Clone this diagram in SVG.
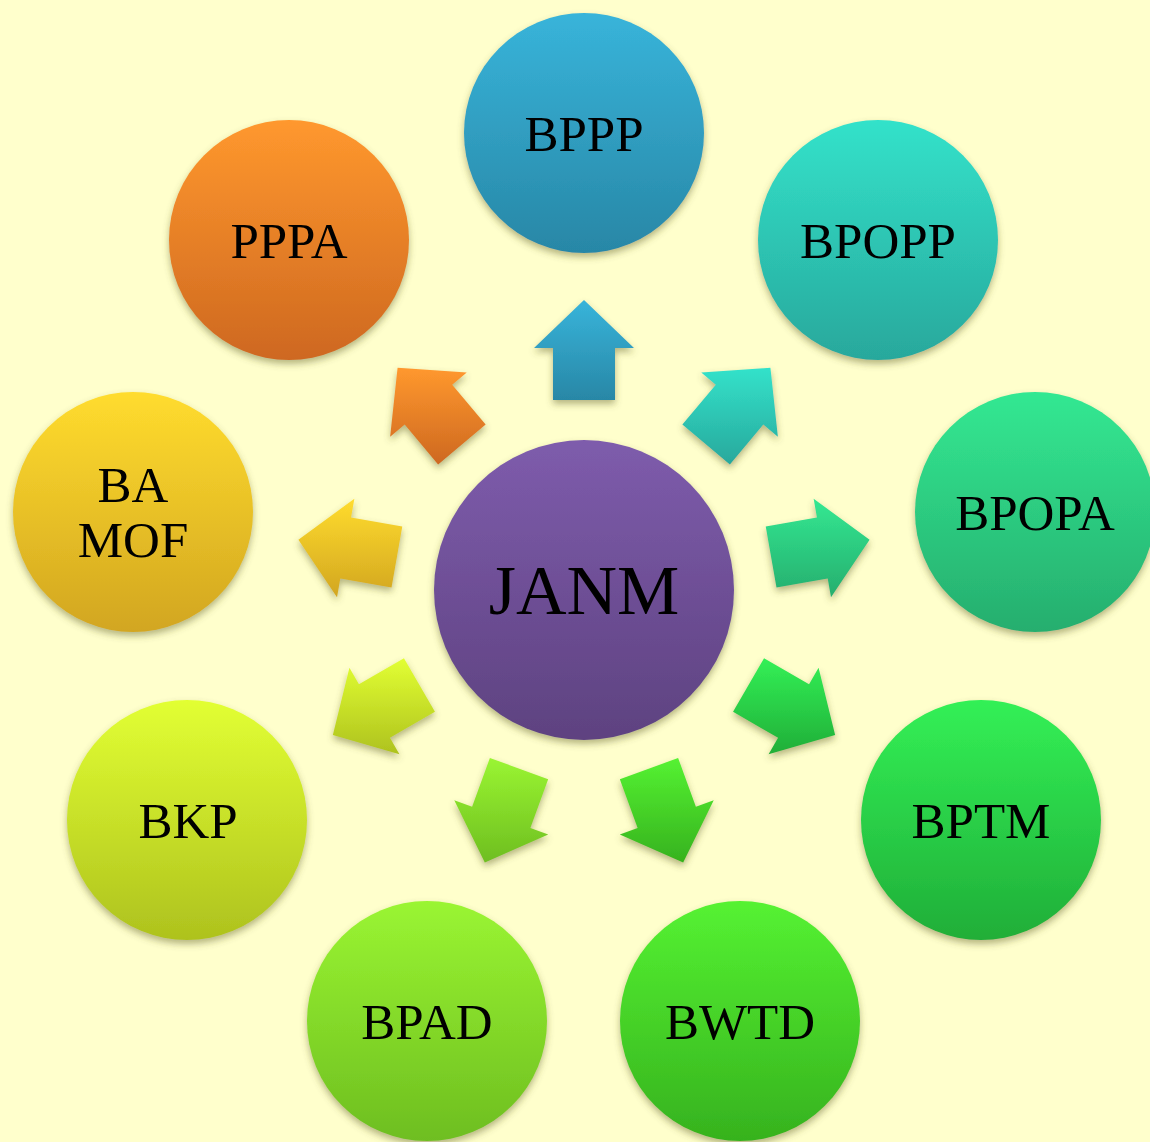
<svg xmlns="http://www.w3.org/2000/svg" width="1150" height="1142" viewBox="0 0 1150 1142">
<defs>
<filter id="sh" x="-20%" y="-20%" width="140%" height="150%">
<feDropShadow dx="0" dy="4" stdDeviation="3.5" flood-color="#5a5a20" flood-opacity="0.45"/>
</filter>
<linearGradient id="gBPPP" x1="0" y1="0" x2="0" y2="1"><stop offset="0" stop-color="#38B4DA"/><stop offset="1" stop-color="#2887A6"/></linearGradient>
<linearGradient id="gBPOPP" x1="0" y1="0" x2="0" y2="1"><stop offset="0" stop-color="#33E2CA"/><stop offset="1" stop-color="#28A89C"/></linearGradient>
<linearGradient id="gBPOPA" x1="0" y1="0" x2="0" y2="1"><stop offset="0" stop-color="#33E892"/><stop offset="1" stop-color="#26AE6E"/></linearGradient>
<linearGradient id="gBPTM" x1="0" y1="0" x2="0" y2="1"><stop offset="0" stop-color="#33F056"/><stop offset="1" stop-color="#20AE38"/></linearGradient>
<linearGradient id="gBWTD" x1="0" y1="0" x2="0" y2="1"><stop offset="0" stop-color="#55F232"/><stop offset="1" stop-color="#36B21E"/></linearGradient>
<linearGradient id="gBPAD" x1="0" y1="0" x2="0" y2="1"><stop offset="0" stop-color="#9AF532"/><stop offset="1" stop-color="#6EBE20"/></linearGradient>
<linearGradient id="gBKP" x1="0" y1="0" x2="0" y2="1"><stop offset="0" stop-color="#E2FF33"/><stop offset="1" stop-color="#AEC21E"/></linearGradient>
<linearGradient id="gBAMOF" x1="0" y1="0" x2="0" y2="1"><stop offset="0" stop-color="#FFDC2E"/><stop offset="1" stop-color="#D2A620"/></linearGradient>
<linearGradient id="gPPPA" x1="0" y1="0" x2="0" y2="1"><stop offset="0" stop-color="#FF982E"/><stop offset="1" stop-color="#CE6820"/></linearGradient>
<linearGradient id="gJANM" x1="0" y1="0" x2="0" y2="1"><stop offset="0" stop-color="#7E5CAC"/><stop offset="1" stop-color="#5E4280"/></linearGradient>
</defs>
<style>
.node{filter:url(#sh);}
.arr{filter:url(#sh);}
.lbl{font-family:"Liberation Serif","Times New Roman",serif;font-size:51px;fill:#000;text-anchor:middle;}
.big{font-family:"Liberation Serif","Times New Roman",serif;font-size:70px;fill:#000;text-anchor:middle;}
</style>
<rect x="0" y="0" width="1150" height="1142" fill="#FFFFCC"/>

<g id="connectors">
<polygon class="arr" fill="url(#gBPPP)" points="615,400 615,348 634,348 584,300 534,348 553,348 553,400"/>
<polygon class="arr" fill="url(#gBPOPP)" points="729.88,464.39 763.31,424.56 777.86,436.77 770.41,367.86 701.26,372.49 715.81,384.70 682.38,424.53"/>
<polygon class="arr" fill="url(#gBPOPA)" points="776.49,587.54 827.70,578.51 831.00,597.22 869.59,539.64 813.64,498.74 816.94,517.45 765.73,526.48"/>
<polygon class="arr" fill="url(#gBPTM)" points="733.04,711.85 778.07,737.85 768.57,754.30 835.14,735 818.57,667.70 809.07,684.15 764.04,658.15"/>
<polygon class="arr" fill="url(#gBWTD)" points="619.85,779.14 637.63,828.01 619.78,834.51 683.18,862.51 713.74,800.31 695.89,806.81 678.11,757.94"/>
<polygon class="arr" fill="url(#gBPAD)" points="548.15,779.14 530.37,828.01 548.22,834.51 484.82,862.51 454.26,800.31 472.11,806.81 489.89,757.94"/>
<polygon class="arr" fill="url(#gBKP)" points="434.96,711.85 389.93,737.85 399.43,754.30 332.86,735 349.43,667.70 358.93,684.15 403.96,658.15"/>
<polygon class="arr" fill="url(#gBAMOF)" points="391.51,587.54 340.30,578.51 337.00,597.22 298.41,539.64 354.36,498.74 351.06,517.45 402.27,526.48"/>
<polygon class="arr" fill="url(#gPPPA)" points="438.12,464.39 404.69,424.56 390.14,436.77 397.59,367.86 466.74,372.49 452.19,384.70 485.62,424.53"/>
</g>

<g id="node-JANM">
<circle class="node" cx="584" cy="590" r="150" fill="url(#gJANM)"/>
<text class="big" x="584" y="614">JANM</text>
</g>
<g id="node-BPPP">
<circle class="node" cx="584" cy="133" r="120" fill="url(#gBPPP)"/>
<text class="lbl" x="584" y="151">BPPP</text>
</g>
<g id="node-BPOPP">
<circle class="node" cx="878" cy="240" r="120" fill="url(#gBPOPP)"/>
<text class="lbl" x="878" y="258">BPOPP</text>
</g>
<g id="node-BPOPA">
<circle class="node" cx="1035" cy="512" r="120" fill="url(#gBPOPA)"/>
<text class="lbl" x="1035" y="530">BPOPA</text>
</g>
<g id="node-BPTM">
<circle class="node" cx="981" cy="820" r="120" fill="url(#gBPTM)"/>
<text class="lbl" x="981" y="838">BPTM</text>
</g>
<g id="node-BWTD">
<circle class="node" cx="740" cy="1021" r="120" fill="url(#gBWTD)"/>
<text class="lbl" x="740" y="1039">BWTD</text>
</g>
<g id="node-BPAD">
<circle class="node" cx="427" cy="1021" r="120" fill="url(#gBPAD)"/>
<text class="lbl" x="427" y="1039">BPAD</text>
</g>
<g id="node-BKP">
<circle class="node" cx="187" cy="820" r="120" fill="url(#gBKP)"/>
<text class="lbl" x="188" y="838">BKP</text>
</g>
<g id="node-BAMOF">
<circle class="node" cx="133" cy="512" r="120" fill="url(#gBAMOF)"/>
<text class="lbl" x="133" y="502">BA</text>
<text class="lbl" x="133" y="557">MOF</text>
</g>
<g id="node-PPPA">
<circle class="node" cx="289" cy="240" r="120" fill="url(#gPPPA)"/>
<text class="lbl" x="289" y="258">PPPA</text>
</g>
</svg>
